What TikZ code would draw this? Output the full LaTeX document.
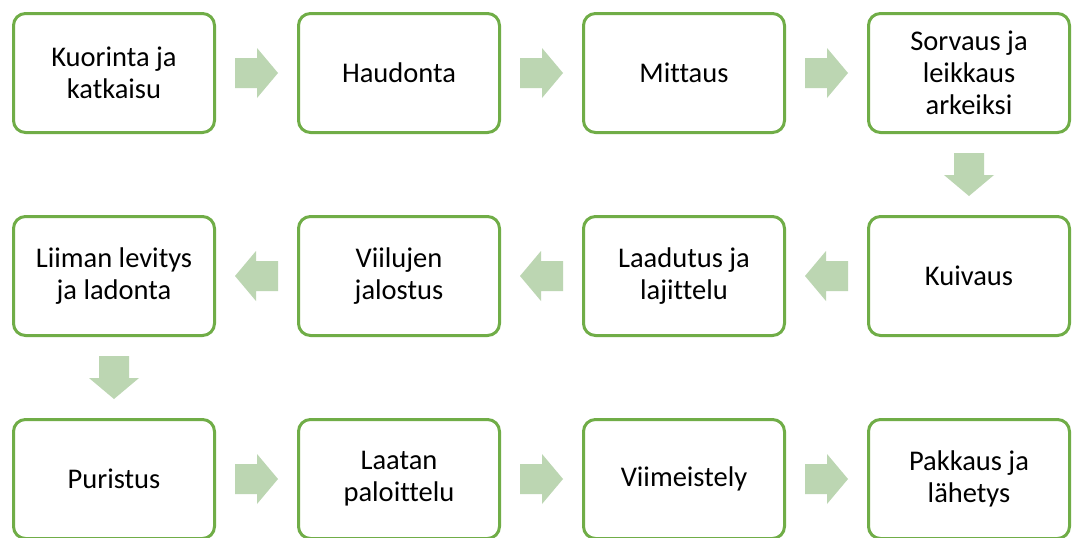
\documentclass[tikz,border=0pt]{standalone}
\usepackage{fontspec}
\setmainfont{Carlito}[Ligatures=NoCommon]
\definecolor{boxline}{HTML}{70AD47}
\definecolor{arrowfill}{HTML}{BCD6B2}
\begin{document}
\begin{tikzpicture}[x=1pt,y=-1pt,
  stepbox/.style={draw=boxline, line width=3pt, fill=white, rounded corners=12pt,
    minimum width=201pt, minimum height=119pt, inner sep=0pt, align=center,
    font=\fontsize{28.5}{32}\selectfont},
  blockarrow/.pic={\fill[arrowfill] (-21.5,-15) -- (0.5,-15) -- (0.5,-25) -- (21.5,0)
    -- (0.5,25) -- (0.5,15) -- (-21.5,15) -- cycle;}]
\useasboundingbox (0,0) rectangle (1072,538);
\fill[white] (0,0) rectangle (1072,538);
% first row, left to right
\node[stepbox] (n1) at (114,73) {Kuorinta ja\\katkaisu};
\node[stepbox] (n2) at (399,73) {Haudonta};
\node[stepbox] (n3) at (684,73) {Mittaus};
\node[stepbox] (n4) at (969,73) {Sorvaus ja\\leikkaus\\arkeiksi};
% second row, right to left
\node[stepbox] (n5) at (969,276) {Kuivaus};
\node[stepbox] (n6) at (684,276) {Laadutus ja\\lajittelu};
\node[stepbox] (n7) at (399,276) {Viilujen\\jalostus};
\node[stepbox] (n8) at (114,276) {Liiman levitys\\ja ladonta};
% third row, left to right
\node[stepbox] (n9) at (114,479) {Puristus};
\node[stepbox] (n10) at (399,479) {Laatan\\paloittelu};
\node[stepbox] (n11) at (684,479) {Viimeistely};
\node[stepbox] (n12) at (969,479) {Pakkaus ja\\lähetys};
% block arrows between consecutive steps, pointing along the flow
\foreach \a/\b in {n1/n2,n2/n3,n3/n4,n4/n5,n5/n6,n6/n7,n7/n8,n8/n9,n9/n10,n10/n11,n11/n12}
  \path (\a) -- (\b) pic[pos=0.5,sloped,allow upside down]{blockarrow};
\end{tikzpicture}
\end{document}
